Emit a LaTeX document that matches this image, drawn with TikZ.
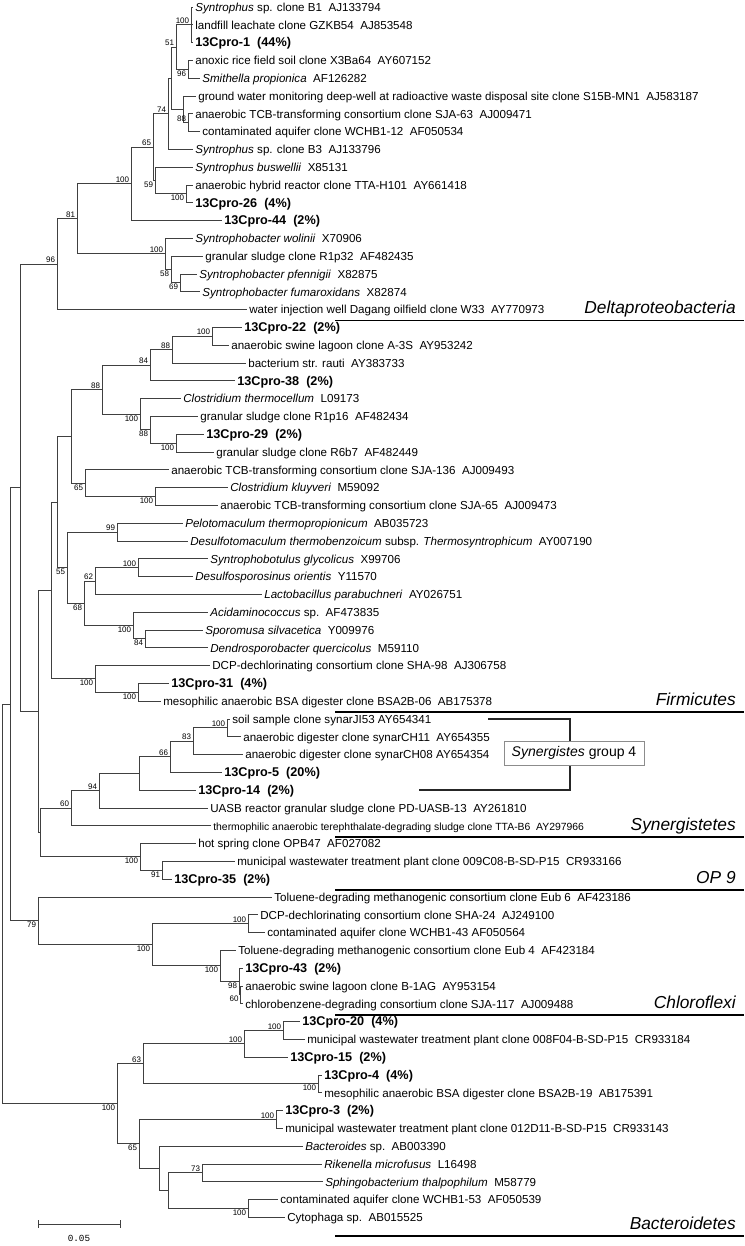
\documentclass[tikz,border=0pt]{standalone}
\usepackage{fontspec}
\setmainfont{Liberation Sans}
\newfontfamily\scalefont{Liberation Mono}
\begin{document}
\begin{tikzpicture}[x=0.75pt,y=-0.75pt,
  br/.style={line width=0.75pt, draw=black!75},
  leaf/.style={anchor=west, inner xsep=1.9pt, inner ysep=0pt, text height=1.5ex, text depth=0.3ex, font=\fontsize{8.7}{10}\selectfont},
  cp/.style={leaf, font=\fontsize{9.5}{11}\selectfont\bfseries},
  sm/.style={leaf, font=\fontsize{7.8}{9}\selectfont},
  bsa/.style={anchor=south east, inner sep=0.4pt, xshift=-0.8pt, yshift=0.4pt, font=\fontsize{6}{7}\selectfont},
  bsb/.style={anchor=north east, inner sep=0.4pt, xshift=-0.8pt, yshift=-0.4pt, font=\fontsize{6}{7}\selectfont},
  grp/.style={anchor=base east, inner sep=0pt, font=\fontsize{13}{15}\selectfont\itshape},
  gl/.style={line width=1pt, draw=black}]
\useasboundingbox (0,0) rectangle (744,1246);

% ---------- leaves ----------
\node[leaf] (l1) at (192.5,7) {\textit{Syntrophus} sp. clone B1~~AJ133794};
\node[leaf] (l2) at (192.5,24.8) {landfill leachate clone GZKB54~~AJ853548};
\node[cp] (l3) at (192.5,42.6) {13Cpro-1~~(44\%)};
\node[leaf] (l4) at (192.5,60.4) {anoxic rice field soil clone X3Ba64~~AY607152};
\node[leaf] (l5) at (199.5,78.2) {\textit{Smithella propionica}~~AF126282};
\node[leaf] (l6) at (195.5,96) {ground water monitoring deep-well at radioactive waste disposal site clone S15B-MN1~~AJ583187};
\node[leaf] (l7) at (192.5,113.8) {anaerobic TCB-transforming consortium clone SJA-63~~AJ009471};
\node[leaf] (l8) at (199.5,131.6) {contaminated aquifer clone WCHB1-12~~AF050534};
\node[leaf] (l9) at (192.5,149.4) {\textit{Syntrophus} sp. clone B3~~AJ133796};
\node[leaf] (l10) at (192.5,167.2) {\textit{Syntrophus buswellii}~~X85131};
\node[leaf] (l11) at (192.5,185) {anaerobic hybrid reactor clone TTA-H101~~AY661418};
\node[cp] (l12) at (192.5,202.8) {13Cpro-26~~(4\%)};
\node[cp] (l13) at (221.5,220.6) {13Cpro-44~~(2\%)};
\node[leaf] (l14) at (192.5,238.4) {\textit{Syntrophobacter wolinii}~~X70906};
\node[leaf] (l15) at (202.5,256.2) {granular sludge clone R1p32~~AF482435};
\node[leaf] (l16) at (196.5,274) {\textit{Syntrophobacter pfennigii}~~X82875};
\node[leaf] (l17) at (199.5,291.8) {\textit{Syntrophobacter fumaroxidans}~~X82874};
\node[leaf] (l18) at (246.5,309.6) {water injection well Dagang oilfield clone W33~~AY770973};
\node[cp] (l19) at (241.5,327.4) {13Cpro-22~~(2\%)};
\node[leaf] (l20) at (228.5,345.2) {anaerobic swine lagoon clone A-3S~~AY953242};
\node[leaf] (l21) at (245.5,363) {bacterium str. rauti~~AY383733};
\node[cp] (l22) at (234.5,380.8) {13Cpro-38~~(2\%)};
\node[leaf] (l23) at (180.5,398.6) {\textit{Clostridium thermocellum}~~L09173};
\node[leaf] (l24) at (197.5,416.4) {granular sludge clone R1p16~~AF482434};
\node[cp] (l25) at (203.5,434.2) {13Cpro-29~~(2\%)};
\node[leaf] (l26) at (213.5,452) {granular sludge clone R6b7~~AF482449};
\node[leaf] (l27) at (168.5,469.8) {anaerobic TCB-transforming consortium clone SJA-136~~AJ009493};
\node[leaf] (l28) at (227.5,487.6) {\textit{Clostridium kluyveri}~~M59092};
\node[leaf] (l29) at (217.5,505.4) {anaerobic TCB-transforming consortium clone SJA-65~~AJ009473};
\node[leaf] (l30) at (182.5,523.2) {\textit{Pelotomaculum thermopropionicum}~~AB035723};
\node[leaf] (l31) at (187.5,541) {\textit{Desulfotomaculum thermobenzoicum} subsp. \textit{Thermosyntrophicum}~~AY007190};
\node[leaf] (l32) at (207.5,558.8) {\textit{Syntrophobotulus glycolicus}~~X99706};
\node[leaf] (l33) at (192.5,576.6) {\textit{Desulfosporosinus orientis}~~Y11570};
\node[leaf] (l34) at (261.5,594.4) {\textit{Lactobacillus parabuchneri}~~AY026751};
\node[leaf] (l35) at (207.5,612.2) {\textit{Acidaminococcus} sp.~~AF473835};
\node[leaf] (l36) at (202.5,630) {\textit{Sporomusa silvacetica}~~Y009976};
\node[leaf] (l37) at (207.5,647.8) {\textit{Dendrosporobacter quercicolus}~~M59110};
\node[leaf] (l38) at (209.5,665.6) {DCP-dechlorinating consortium clone SHA-98~~AJ306758};
\node[cp] (l39) at (168.5,683.4) {13Cpro-31~~(4\%)};
\node[leaf] (l40) at (160.5,701.2) {mesophilic anaerobic BSA digester clone BSA2B-06~~AB175378};
\node[leaf] (l41) at (229.5,719) {soil sample clone synarJI53 AY654341};
\node[leaf] (l42) at (240.5,736.8) {anaerobic digester clone synarCH11~~AY654355};
\node[leaf] (l43) at (242.5,754.6) {anaerobic digester clone synarCH08 AY654354};
\node[cp] (l44) at (221.5,772.4) {13Cpro-5~~(20\%)};
\node[cp] (l45) at (195.5,790.2) {13Cpro-14~~(2\%)};
\node[leaf] (l46) at (207.5,808) {UASB reactor granular sludge clone PD-UASB-13~~AY261810};
\node[sm] (l47) at (210.5,825.8) {thermophilic anaerobic terephthalate-degrading sludge clone TTA-B6~~AY297966};
\node[leaf] (l48) at (195.5,843.6) {hot spring clone OPB47~~AF027082};
\node[leaf] (l49) at (234.5,861.4) {municipal wastewater treatment plant clone 009C08-B-SD-P15~~CR933166};
\node[cp] (l50) at (171.5,879.2) {13Cpro-35~~(2\%)};
\node[leaf] (l51) at (271.5,897) {Toluene-degrading methanogenic consortium clone Eub 6~~AF423186};
\node[leaf] (l52) at (257.5,914.8) {DCP-dechlorinating consortium clone SHA-24~~AJ249100};
\node[leaf] (l53) at (264.5,932.6) {contaminated aquifer clone WCHB1-43 AF050564};
\node[leaf] (l54) at (235.5,950.4) {Toluene-degrading methanogenic consortium clone Eub 4~~AF423184};
\node[cp] (l55) at (242.5,968.2) {13Cpro-43~~(2\%)};
\node[leaf] (l56) at (242.5,986) {anaerobic swine lagoon clone B-1AG~~AY953154};
\node[leaf] (l57) at (242.5,1003.8) {chlorobenzene-degrading consortium clone SJA-117~~AJ009488};
\node[cp] (l58) at (299.5,1021.6) {13Cpro-20~~(4\%)};
\node[leaf] (l59) at (304.5,1039.4) {municipal wastewater treatment plant clone 008F04-B-SD-P15~~CR933184};
\node[cp] (l60) at (287.5,1057.2) {13Cpro-15~~(2\%)};
\node[cp] (l61) at (321.5,1075) {13Cpro-4~~(4\%)};
\node[leaf] (l62) at (321.5,1092.8) {mesophilic anaerobic BSA digester clone BSA2B-19~~AB175391};
\node[cp] (l63) at (282.5,1110.6) {13Cpro-3~~(2\%)};
\node[leaf] (l64) at (282.5,1128.4) {municipal wastewater treatment plant clone 012D11-B-SD-P15~~CR933143};
\node[leaf] (l65) at (302.5,1146.2) {\textit{Bacteroides} sp.~~AB003390};
\node[leaf] (l66) at (321.5,1164) {\textit{Rikenella microfusus}~~L16498};
\node[leaf] (l67) at (322.5,1181.8) {\textit{Sphingobacterium thalpophilum}~~M58779};
\node[leaf] (l68) at (277.5,1199.6) {contaminated aquifer clone WCHB1-53~~AF050539};
\node[leaf] (l69) at (284.5,1217.4) {Cytophaga sp.~~AB015525};

% ---------- internal nodes ----------
\coordinate (nA) at (191,24.8);
\coordinate (nB96) at (188,69.3);
\coordinate (nC51) at (176,47.05);
\coordinate (nD88) at (188,122.7);
\coordinate (nE) at (183,109.35);
\coordinate (nF) at (171,78.2);
\coordinate (nG74) at (168,113.8);
\coordinate (nH100) at (186,193.9);
\coordinate (nI59) at (155,180.55);
\coordinate (nJ65) at (153,147.2);
\coordinate (nK100) at (131,183.9);
\coordinate (nL69) at (180,282.9);
\coordinate (nM58) at (171,269.55);
\coordinate (nN100) at (165,253.98);
\coordinate (nO81) at (77,218.9);
\coordinate (nP96) at (57,264.25);
\coordinate (f100a) at (212,336.3);
\coordinate (f88a) at (172,349.65);
\coordinate (f84a) at (150,365.2);
\coordinate (f100b) at (176,443.1);
\coordinate (f88b) at (150,429.75);
\coordinate (f100c) at (140,414.2);
\coordinate (f88c) at (102,389.7);
\coordinate (f100d) at (155,496.5);
\coordinate (f65) at (85,483.15);
\coordinate (fa) at (71,436.4);
\coordinate (f99) at (117,532.1);
\coordinate (f100e) at (138,567.7);
\coordinate (f62) at (95,581.05);
\coordinate (f84b) at (145,638.9);
\coordinate (f100f) at (133,625.55);
\coordinate (f68) at (84,603.3);
\coordinate (f55) at (67,567.7);
\coordinate (fb) at (57,502.05);
\coordinate (f100g) at (138,692.3);
\coordinate (f100h) at (95,678.95);
\coordinate (fc) at (51,590.5);
\coordinate (s100) at (227,727.9);
\coordinate (s83) at (193,741.25);
\coordinate (s66) at (170,756.8);
\coordinate (sx) at (139,773.5);
\coordinate (s94) at (99,790.75);
\coordinate (s60) at (71,808.3);
\coordinate (o91) at (162,870.3);
\coordinate (o100) at (140,856.95);
\coordinate (c100a) at (248,923.7);
\coordinate (c60) at (240.5,994.9);
\coordinate (c98) at (239,981.55);
\coordinate (c100b) at (220,965.98);
\coordinate (c100c) at (152,944.84);
\coordinate (c79) at (38,920.92);
\coordinate (b100a) at (283,1030.5);
\coordinate (b100b) at (244,1043.85);
\coordinate (b100c) at (318,1083.9);
\coordinate (b63) at (143,1063.9);
\coordinate (b100d) at (276,1119.5);
\coordinate (b73) at (202,1172.9);
\coordinate (b100e) at (248,1208.5);
\coordinate (be) at (168,1190.7);
\coordinate (bf) at (159,1168.45);
\coordinate (b65) at (139,1143.98);
\coordinate (b100f) at (117,1103.94);
\coordinate (k1) at (40,832.6);
\coordinate (k2) at (38,711.55);
\coordinate (k3) at (20,487.9);
\coordinate (k4) at (10,704.4);
\coordinate (rt) at (2,904.2);

% ---------- branches ----------
\foreach \p/\c in {nA/l1.west,nA/l2.west,nA/l3.west,nB96/l4.west,nB96/l5.west,nC51/nA,nC51/nB96,
  nD88/l7.west,nD88/l8.west,nE/l6.west,nE/nD88,nF/nC51,nF/nE,nG74/nF,nG74/l9.west,
  nH100/l11.west,nH100/l12.west,nI59/l10.west,nI59/nH100,nJ65/nG74,nJ65/nI59,nK100/nJ65,nK100/l13.west,
  nL69/l16.west,nL69/l17.west,nM58/l15.west,nM58/nL69,nN100/l14.west,nN100/nM58,nO81/nK100,nO81/nN100,
  nP96/nO81,nP96/l18.west,
  f100a/l19.west,f100a/l20.west,f88a/f100a,f88a/l21.west,f84a/f88a,f84a/l22.west,
  f100b/l25.west,f100b/l26.west,f88b/l24.west,f88b/f100b,f100c/l23.west,f100c/f88b,f88c/f84a,f88c/f100c,
  f100d/l28.west,f100d/l29.west,f65/l27.west,f65/f100d,fa/f88c,fa/f65,
  f99/l30.west,f99/l31.west,f100e/l32.west,f100e/l33.west,f62/f100e,f62/l34.west,
  f84b/l36.west,f84b/l37.west,f100f/l35.west,f100f/f84b,f68/f62,f68/f100f,f55/f99,f55/f68,fb/fa,fb/f55,
  f100g/l39.west,f100g/l40.west,f100h/l38.west,f100h/f100g,fc/fb,fc/f100h,
  s100/l41.west,s100/l42.west,s83/s100,s83/l43.west,s66/s83,s66/l44.west,sx/s66,sx/l45.west,
  s94/sx,s94/l46.west,s60/s94,s60/l47.west,
  o91/l49.west,o91/l50.west,o100/l48.west,o100/o91,
  c100a/l52.west,c100a/l53.west,c60/l56.west,c60/l57.west,c98/l55.west,c98/c60,c100b/l54.west,c100b/c98,
  c100c/c100a,c100c/c100b,c79/l51.west,c79/c100c,
  b100a/l58.west,b100a/l59.west,b100b/b100a,b100b/l60.west,b100c/l61.west,b100c/l62.west,b63/b100b,b63/b100c,
  b100d/l63.west,b100d/l64.west,b73/l66.west,b73/l67.west,b100e/l68.west,b100e/l69.west,be/b73,be/b100e,
  bf/l65.west,bf/be,b65/b100d,b65/bf,b100f/b63,b100f/b65,
  k1/s60,k1/o100,k2/fc,k2/k1,k3/nP96,k3/k2,k4/k3,k4/c79,rt/k4,rt/b100f}
  \draw[br] (\p) |- (\c);

% ---------- bootstrap values ----------
\foreach \n/\v in {nA/100,nC51/51,nD88/88,nG74/74,nJ65/65,nK100/100,nN100/100,nO81/81,nP96/96,
  f100a/100,f88a/88,f84a/84,f88c/88,f99/99,f100e/100,f62/62,
  s100/100,s83/83,s66/66,s94/94,s60/60,c100a/100,
  b100a/100,b100b/100,b63/63,b100d/100,b73/73}
  \node[bsa] at (\n) {\v};
\foreach \n/\v in {nB96/96,nI59/59,nH100/100,nM58/58,nL69/69,
  f100c/100,f88b/88,f100b/100,f65/65,f100d/100,f55/55,f68/68,f100f/100,f84b/84,f100h/100,f100g/100,
  o91/91,o100/100,c79/79,c100b/100,c100c/100,c98/98,c60/60,
  b100c/100,b100e/100,b65/65,b100f/100}
  \node[bsb] at (\n) {\v};

% ---------- group labels ----------
\draw[gl] (335,320.6) -- (744,320.6);
\node[grp] (gDelta) at (736,313) {Deltaproteobacteria};
\draw[gl] (335,712) -- (744,712);
\node[grp] (gFirm) at (736,705) {Firmicutes};
\draw[gl] (335,837) -- (744,837);
\node[grp] (gSyn) at (736,830) {Synergistetes};
\draw[gl] (335,890) -- (744,890);
\node[grp] (gOP) at (736,883) {OP 9};
\draw[gl] (335,1015) -- (744,1015);
\node[grp] (gChl) at (736,1008) {Chloroflexi};
\draw[gl] (335,1236) -- (744,1236);
\node[grp] (gBac) at (736,1229) {Bacteroidetes};

% ---------- Synergistes group 4 bracket ----------
\coordinate (bk1) at (488,719);
\coordinate (bk2) at (570,719);
\coordinate (bk3) at (570,790.2);
\coordinate (bk4) at (419,790.2);
\draw[line width=1.1pt, draw=black!85] (bk1) -- (bk2) -- (bk3) -- (bk4);
\node[draw=black!45, fill=white, line width=0.6pt, minimum width=105pt, minimum height=18pt, inner sep=0pt,
  font=\fontsize{10.5}{12}\selectfont] (sg4) at (574,753) {\textit{Synergistes} group 4};

% ---------- scale bar ----------
\coordinate (sb1) at (38,1224);
\coordinate (sb2) at (120,1224);
\draw[br] (sb1) -- (sb2);
\draw[br] ([yshift=3pt]sb1) -- ([yshift=-3pt]sb1);
\draw[br] ([yshift=3pt]sb2) -- ([yshift=-3pt]sb2);
\node[font=\fontsize{7}{8}\scalefont, inner sep=0pt] (sbl) at (79,1238) {0.05};
\end{tikzpicture}
\end{document}
